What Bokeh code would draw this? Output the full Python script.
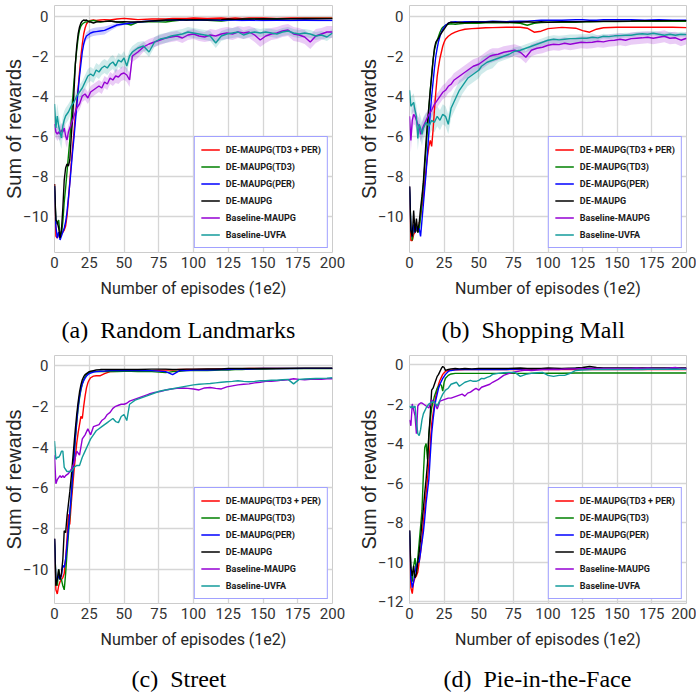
import numpy as np
from bokeh.plotting import figure
from bokeh.layouts import row, column
from bokeh.models import (Range1d, FixedTicker, Legend, LegendItem, Title, LinearAxis,
                          CustomJSTickFormatter)
from bokeh.embed import file_html
from bokeh.resources import INLINE

# ---------------- data ----------------
LABELS = ["DE-MAUPG(TD3 + PER)", "DE-MAUPG(TD3)", "DE-MAUPG(PER)", "DE-MAUPG",
          "Baseline-MAUPG", "Baseline-UVFA"]
CAPTIONS = ["(a)\u00a0 Random Landmarks", "(b)\u00a0 Shopping Mall",
            "(c)\u00a0 Street", "(d)\u00a0 Pie-in-the-Face"]
XLABEL = "Number of episodes (1e2)"
YLABEL = "Sum of rewards"
XTICKS = [0, 25, 50, 75, 100, 125, 150, 175, 200]
YTICKS = [-12, -10, -8, -6, -4, -2, 0]

# x positions for the four DE-MAUPG curves
XF = [0, 1, 2, 3, 4, 5, 6, 7, 8, 9, 10, 11, 12, 13, 14, 15, 16, 17, 18, 19, 20, 21, 22, 23, 24, 25, 26,
      28, 30, 33, 36, 40, 45, 50, 55, 60,
      70, 80, 85, 90, 95, 100,
      110, 120, 125, 130, 135, 140,
      150, 160, 170, 180, 190, 200]
# x positions for the two baseline curves
XB = [0, 1, 2, 3, 4, 5, 6, 7, 8, 9, 10,
      12, 14, 16, 18, 20, 22, 24, 26, 28, 30, 32, 34, 36,
      38, 40, 42, 44, 46, 48, 50, 52, 54, 56, 58, 60,
      64, 68, 72, 76, 80, 84, 88, 92, 96, 100, 104, 108, 112, 116, 120, 124, 128, 132,
      136, 140, 144, 148, 152, 156, 160, 164, 168, 172, 176, 180, 184, 188, 192, 196, 200]

# ---- (a) Random Landmarks ----
a_red = [-8.4, -11.0, -11.1, -10.9, -10.8, -10.9, -10.8, -10.7, -10.5, -10.0, -9.2, -8.3, -7.4, -6.6, -5.8, -5.0, -4.3, -3.6, -2.8, -2.0, -1.4, -0.9, -0.6, -0.4, -0.3, -0.25, -0.22,
         -0.2, -0.22, -0.2, -0.18, -0.2, -0.15, -0.12, -0.15, -0.18,
         -0.15, -0.15, -0.12, -0.12, -0.12, -0.1,
         -0.12, -0.1, -0.12, -0.1, -0.12, -0.1,
         -0.1, -0.12, -0.1, -0.1, -0.1, -0.1]
a_green = [-8.5, -10.3, -10.4, -10.2, -10.9, -10.9, -10.3, -9.3, -8.6, -7.8, -7.0, -6.2, -5.2, -4.2, -3.3, -2.4, -1.7, -1.1, -0.7, -0.5, -0.4, -0.35, -0.3, -0.3, -0.28, -0.25, -0.25,
           -0.22, -0.25, -0.3, -0.28, -0.25, -0.3, -0.35, -0.45, -0.3,
           -0.28, -0.3, -0.25, -0.22, -0.2, -0.2,
           -0.22, -0.25, -0.22, -0.18, -0.17, -0.15,
           -0.15, -0.14, -0.13, -0.12, -0.12, -0.12]
a_blue = [-8.5, -10.5, -11.1, -10.8, -11.2, -11.0, -10.8, -10.6, -10.3, -9.8, -9.1, -8.4, -7.6, -6.8, -6.1, -5.3, -4.5, -3.7, -3.0, -2.4, -1.8, -1.4, -1.15, -1.0, -0.95, -0.9, -0.85,
          -0.8, -0.78, -0.75, -0.72, -0.6, -0.45, -0.4, -0.35, -0.3,
          -0.25, -0.22, -0.2, -0.2, -0.2, -0.2,
          -0.2, -0.22, -0.2, -0.2, -0.22, -0.2,
          -0.22, -0.2, -0.22, -0.2, -0.22, -0.22]
a_black = [-8.4, -10.2, -10.3, -10.6, -11.1, -10.7, -9.6, -8.2, -7.6, -7.4, -7.5, -7.2, -6.1, -5.1, -3.8, -2.4, -1.5, -0.9, -0.55, -0.35, -0.25, -0.2, -0.22, -0.2, -0.25, -0.3, -0.3,
           -0.35, -0.3, -0.28, -0.27, -0.25, -0.3, -0.28, -0.3, -0.3,
           -0.25, -0.2, -0.2, -0.18, -0.2, -0.18,
           -0.2, -0.18, -0.15, -0.17, -0.15, -0.15,
           -0.14, -0.15, -0.14, -0.13, -0.14, -0.13]
a_purple = [-5.4, -5.8, -5.9, -5.8, -5.9, -5.7, -5.8, -5.6, -6.0, -6.2, -5.8,
            -5.4, -5.0, -4.6, -4.4, -4.0, -3.9, -4.1, -3.8, -3.7, -3.6, -3.5, -3.6, -3.3,
            -3.4, -3.1, -3.2, -3.0, -3.05, -2.9, -2.85, -2.95, -3.2, -2.0, -1.9, -1.8,
            -1.55, -1.4, -1.3, -1.2, -1.1, -1.05, -1.0, -1.1, -0.95, -0.9, -1.0, -1.05, -0.95, -1.0, -0.9, -0.85, -0.9, -0.8,
            -0.85, -0.8, -0.95, -1.2, -1.0, -0.9, -0.85, -0.75, -0.7, -0.9, -0.95, -1.05, -1.3, -1.0, -0.9, -0.8, -0.8]
a_teal = [-4.4, -5.6, -5.0, -5.5, -5.8, -6.1, -5.5, -5.2, -5.0, -4.9, -4.8,
          -4.5, -4.3, -4.0, -3.8, -3.6, -3.3, -3.0, -2.9, -3.0, -2.7, -2.8, -2.6, -2.5,
          -2.6, -2.4, -2.3, -2.5, -2.2, -2.3, -2.1, -2.5, -2.0, -1.8, -1.7, -1.6,
          -1.5, -1.8, -1.3, -1.15, -1.1, -1.0, -0.95, -0.9, -0.8, -0.85, -0.9, -0.95, -1.0, -1.35, -1.0, -0.9, -0.85, -0.8,
          -0.95, -0.85, -0.8, -0.85, -0.8, -0.85, -0.9, -0.8, -0.75, -0.85, -0.9, -0.85, -0.9, -1.0, -0.95, -1.05, -0.85]
a_purple_sd = [0.3, 0.3, 0.35, 0.35, 0.35, 0.35, 0.35, 0.35, 0.4, 0.4, 0.35,
               0.35, 0.35, 0.3, 0.3, 0.3, 0.3, 0.3, 0.3, 0.3, 0.3, 0.3, 0.3, 0.3,
               0.3, 0.3, 0.3, 0.35, 0.35, 0.35, 0.35, 0.35, 0.35, 0.3, 0.3, 0.3,
               0.25, 0.25, 0.25, 0.25, 0.25, 0.25, 0.25, 0.25, 0.25, 0.25, 0.25, 0.25, 0.3, 0.3, 0.3, 0.3, 0.3, 0.3,
               0.3, 0.3, 0.35, 0.35, 0.35, 0.3, 0.3, 0.3, 0.3, 0.35, 0.35, 0.35, 0.35, 0.35, 0.3, 0.3, 0.3]
a_teal_sd = [0.6, 0.6, 0.6, 0.6, 0.6, 0.55, 0.5, 0.45, 0.4, 0.4, 0.4,
             0.35, 0.35, 0.35, 0.35, 0.35, 0.35, 0.35, 0.35, 0.35, 0.35, 0.35, 0.35, 0.35,
             0.35, 0.35, 0.35, 0.35, 0.35, 0.35, 0.35, 0.35, 0.3, 0.3, 0.3, 0.3,
             0.25, 0.25, 0.25, 0.25, 0.25, 0.25, 0.25, 0.25, 0.25, 0.25, 0.25, 0.25, 0.25, 0.25, 0.25, 0.25, 0.25, 0.25,
             0.2, 0.2, 0.2, 0.2, 0.2, 0.2, 0.2, 0.2, 0.2, 0.2, 0.2, 0.2, 0.2, 0.2, 0.2, 0.2, 0.2]
a_blue_sd = [0.0, 0.0, 0.0, 0.0, 0.0, 0.0, 0.0, 0.0, 0.0, 0.0, 0.0, 0.0, 0.0, 0.0, 0.0, 0.0, 0.0, 0.0, 0.0, 0.0, 0.1, 0.15, 0.2, 0.2, 0.2, 0.2, 0.2,
             0.2, 0.2, 0.2, 0.2, 0.15, 0.1, 0.05, 0.05, 0.05,
             0.05, 0.05, 0.05, 0.05, 0.05, 0.05,
             0.05, 0.05, 0.05, 0.05, 0.05, 0.05,
             0.05, 0.05, 0.05, 0.05, 0.05, 0.05]

# ---- (b) Shopping Mall ----
b_red = [-8.5, -11.2, -11.2, -10.9, -10.8, -10.7, -10.6, -10.4, -10.0, -9.5, -9.0, -8.3, -7.6, -7.0, -6.5, -6.2, -6.5, -5.7, -4.7, -3.8, -3.0, -2.5, -2.1, -1.8, -1.5, -1.3, -1.15,
         -1.0, -0.9, -0.8, -0.72, -0.65, -0.62, -0.6, -0.58, -0.57,
         -0.55, -0.55, -0.6, -0.8, -0.75, -0.62,
         -0.56, -0.6, -0.72, -0.8, -0.65, -0.58,
         -0.55, -0.55, -0.55, -0.55, -0.55, -0.57]
b_green = [-8.5, -10.5, -11.2, -10.5, -10.4, -10.6, -10.8, -10.7, -10.0, -9.2, -8.4, -7.5, -6.6, -5.6, -4.6, -3.7, -2.9, -2.2, -1.7, -1.4, -1.2, -1.0, -0.8, -0.65, -0.55, -0.5, -0.45,
           -0.4, -0.38, -0.4, -0.38, -0.35, -0.35, -0.35, -0.33, -0.33,
           -0.32, -0.35, -0.45, -0.35, -0.32, -0.3,
           -0.3, -0.3, -0.28, -0.28, -0.27, -0.27,
           -0.27, -0.25, -0.25, -0.25, -0.25, -0.25]
b_blue = [-8.5, -10.6, -11.0, -10.4, -10.8, -10.5, -10.7, -10.6, -11.0, -10.2, -9.4, -8.6, -7.8, -6.8, -5.8, -4.8, -4.0, -3.3, -2.6, -2.0, -1.6, -1.25, -1.0, -0.8, -0.65, -0.55, -0.45,
          -0.35, -0.3, -0.28, -0.3, -0.28, -0.28, -0.27, -0.28, -0.25,
          -0.27, -0.25, -0.25, -0.22, -0.2, -0.2,
          -0.2, -0.18, -0.18, -0.2, -0.2, -0.18,
          -0.18, -0.17, -0.2, -0.18, -0.2, -0.2]
b_black = [-8.5, -10.7, -11.0, -9.7, -10.8, -10.1, -10.8, -10.3, -9.6, -9.0, -8.3, -7.2, -6.2, -5.3, -4.5, -3.7, -3.0, -2.2, -1.6, -1.3, -1.2, -1.1, -0.95, -0.85, -0.75, -0.65, -0.55,
           -0.35, -0.3, -0.32, -0.3, -0.32, -0.3, -0.3, -0.3, -0.28,
           -0.3, -0.3, -0.28, -0.3, -0.28, -0.3,
           -0.28, -0.27, -0.28, -0.26, -0.27, -0.25,
           -0.25, -0.24, -0.22, -0.23, -0.22, -0.22]
b_purple = [-5.0, -6.2, -5.2, -4.9, -5.0, -5.2, -5.4, -5.5, -5.9, -5.7, -5.5,
            -5.2, -4.9, -4.7, -4.4, -4.2, -4.0, -3.8, -3.7, -3.5, -3.4, -3.2, -3.1, -3.0,
            -2.9, -2.8, -2.7, -2.6, -2.5, -2.45, -2.4, -2.3, -2.2, -2.1, -2.0, -1.95,
            -1.9, -1.8, -1.75, -1.7, -1.8, -2.05, -1.7, -1.6, -1.55, -1.45, -1.4, -1.42, -1.35, -1.4, -1.35, -1.3, -1.32, -1.3,
            -1.25, -1.28, -1.22, -1.2, -1.15, -1.2, -1.12, -1.1, -1.08, -1.05, -1.1, -1.05, -1.0, -1.1, -1.08, -1.2, -1.1]
b_teal = [-3.7, -4.5, -4.4, -4.3, -4.7, -5.0, -6.1, -5.4, -5.6, -5.9, -5.6,
          -5.3, -5.5, -5.2, -5.3, -5.0, -5.2, -4.9, -5.0, -5.4, -4.6, -4.3, -4.0, -3.7,
          -3.5, -3.3, -3.1, -3.0, -2.9, -2.8, -2.7, -2.5, -2.4, -2.3, -2.25, -2.2,
          -2.1, -2.0, -1.9, -1.75, -1.7, -1.6, -1.5, -1.4, -1.3, -1.2, -1.15, -1.18, -1.15, -1.12, -1.12, -1.1, -1.1, -1.05,
          -1.08, -1.0, -1.02, -0.98, -0.97, -0.95, -0.95, -0.9, -0.88, -0.9, -0.85, -0.9, -0.95, -0.9, -0.95, -0.9, -0.92]
b_purple_sd = [0.5, 0.6, 0.5, 0.5, 0.45, 0.45, 0.4, 0.4, 0.4, 0.4, 0.4,
               0.35, 0.35, 0.35, 0.35, 0.35, 0.35, 0.35, 0.35, 0.35, 0.35, 0.35, 0.35, 0.35,
               0.35, 0.35, 0.35, 0.35, 0.35, 0.35, 0.35, 0.35, 0.35, 0.35, 0.35, 0.35,
               0.3, 0.3, 0.3, 0.3, 0.3, 0.3, 0.3, 0.3, 0.3, 0.3, 0.3, 0.3, 0.3, 0.3, 0.3, 0.3, 0.3, 0.3,
               0.3, 0.3, 0.3, 0.3, 0.3, 0.3, 0.3, 0.3, 0.3, 0.3, 0.3, 0.3, 0.3, 0.3, 0.3, 0.3, 0.3]
b_teal_sd = [0.4, 0.45, 0.45, 0.45, 0.5, 0.55, 0.6, 0.6, 0.6, 0.6, 0.55,
             0.5, 0.5, 0.5, 0.5, 0.5, 0.5, 0.5, 0.5, 0.5, 0.5, 0.5, 0.5, 0.5,
             0.4, 0.4, 0.4, 0.4, 0.4, 0.4, 0.4, 0.4, 0.4, 0.4, 0.4, 0.4,
             0.2, 0.2, 0.2, 0.2, 0.2, 0.2, 0.2, 0.2, 0.2, 0.2, 0.2, 0.2, 0.2, 0.2, 0.2, 0.2, 0.2, 0.2,
             0.12, 0.12, 0.12, 0.12, 0.12, 0.12, 0.12, 0.12, 0.12, 0.12, 0.12, 0.12, 0.12, 0.12, 0.12, 0.12, 0.12]

# ---- (c) Street ----
c_red = [-8.5, -11.0, -11.2, -10.8, -10.6, -10.5, -10.4, -10.2, -9.5, -8.5, -7.3, -7.8, -6.8, -6.0, -5.2, -4.5, -3.8, -3.3, -2.9, -2.5, -2.6, -2.0, -1.5, -1.1, -0.85, -0.7, -0.6,
         -0.52, -0.5, -0.5, -0.4, -0.3, -0.28, -0.27, -0.25, -0.25,
         -0.25, -0.22, -0.22, -0.2, -0.2, -0.2,
         -0.18, -0.17, -0.17, -0.16, -0.16, -0.15,
         -0.15, -0.15, -0.14, -0.14, -0.14, -0.14]
c_green = [-8.5, -10.5, -10.8, -10.0, -10.4, -10.5, -10.8, -11.0, -10.2, -9.2, -8.3, -7.4, -6.5, -5.5, -4.5, -3.6, -2.8, -2.1, -1.6, -1.2, -0.9, -0.7, -0.55, -0.45, -0.4, -0.35, -0.32,
           -0.3, -0.3, -0.28, -0.3, -0.28, -0.3, -0.28, -0.28, -0.3,
           -0.3, -0.35, -0.3, -0.28, -0.25, -0.25,
           -0.25, -0.22, -0.22, -0.2, -0.2, -0.18,
           -0.17, -0.16, -0.15, -0.15, -0.15, -0.15]
c_blue = [-8.5, -10.6, -10.5, -10.3, -10.5, -10.3, -9.8, -9.9, -9.5, -8.8, -8.0, -7.2, -6.4, -5.4, -4.4, -3.5, -2.7, -2.0, -1.5, -1.15, -0.9, -0.75, -0.62, -0.52, -0.45, -0.4, -0.37,
          -0.32, -0.3, -0.28, -0.27, -0.25, -0.25, -0.25, -0.25, -0.25,
          -0.25, -0.3, -0.45, -0.25, -0.25, -0.22,
          -0.22, -0.2, -0.2, -0.18, -0.17, -0.17,
          -0.15, -0.15, -0.15, -0.14, -0.14, -0.14]
c_black = [-8.5, -10.8, -10.5, -10.0, -10.5, -10.2, -9.5, -8.1, -8.2, -7.4, -6.8, -6.2, -5.5, -4.7, -3.9, -3.1, -2.4, -1.8, -1.3, -0.95, -0.7, -0.55, -0.45, -0.4, -0.35, -0.3, -0.28,
           -0.25, -0.22, -0.2, -0.2, -0.2, -0.2, -0.2, -0.2, -0.2,
           -0.18, -0.18, -0.2, -0.2, -0.18, -0.18,
           -0.17, -0.17, -0.15, -0.15, -0.15, -0.15,
           -0.15, -0.14, -0.14, -0.13, -0.13, -0.13]
c_purple = [-4.4, -5.8, -5.6, -5.5, -5.4, -5.5, -5.4, -5.5, -5.4, -5.35, -5.3,
            -5.1, -4.8, -4.2, -4.4, -3.6, -3.4, -3.1, -3.4, -3.0, -2.95, -2.9, -2.7, -2.6,
            -2.4, -2.3, -2.1, -2.0, -1.95, -1.9, -1.9, -1.85, -1.75, -1.7, -1.65, -1.6,
            -1.5, -1.4, -1.32, -1.28, -1.2, -1.15, -1.12, -1.1, -1.12, -1.15, -1.2, -1.1, -1.08, -1.12, -1.15, -1.05, -1.0, -0.95,
            -0.92, -0.9, -0.85, -0.82, -0.78, -0.78, -0.75, -0.72, -0.7, -0.65, -0.68, -0.7, -0.68, -0.66, -0.68, -0.65, -0.65]
c_teal = [-3.7, -4.6, -4.5, -4.5, -4.4, -4.2, -4.2, -5.0, -5.1, -5.2, -5.2,
          -5.2, -5.0, -4.9, -4.9, -4.5, -4.2, -3.9, -3.6, -3.4, -3.2, -3.1, -3.0, -2.9,
          -2.8, -2.7, -2.6, -2.75, -2.8, -2.5, -2.4, -2.7, -1.9, -1.8, -1.7, -1.65,
          -1.55, -1.45, -1.35, -1.25, -1.2, -1.15, -1.1, -1.05, -1.0, -0.95, -0.92, -0.9, -0.88, -0.85, -0.82, -0.8, -0.78, -0.75,
          -0.78, -0.8, -0.78, -0.75, -0.75, -0.72, -0.72, -0.7, -0.68, -0.9, -0.68, -0.66, -0.65, -0.64, -0.63, -0.62, -0.6]

# ---- (d) Pie-in-the-Face ----
d_red = [-8.4, -11.3, -11.6, -11.0, -10.8, -10.7, -10.5, -10.0, -9.5, -8.8, -8.0, -7.3, -6.5, -5.8, -5.0, -4.0, -3.0, -2.5, -2.0, -1.6, -1.3, -1.0, -0.8, -0.65, -0.5, -0.42, -0.35,
         -0.3, -0.28, -0.27, -0.27, -0.26, -0.26, -0.25, -0.25, -0.25,
         -0.25, -0.25, -0.25, -0.25, -0.25, -0.25,
         -0.25, -0.25, -0.25, -0.25, -0.25, -0.25,
         -0.25, -0.25, -0.25, -0.25, -0.25, -0.25]
d_green = [-8.4, -10.5, -11.0, -10.2, -9.8, -10.5, -9.8, -9.0, -8.2, -7.4, -5.6, -4.2, -4.0, -4.8, -3.5, -2.8, -2.2, -1.9, -1.6, -1.4, -1.2, -1.1, -1.0, -1.05, -1.35, -0.9, -0.7,
           -0.55, -0.48, -0.45, -0.45, -0.45, -0.45, -0.45, -0.45, -0.45,
           -0.45, -0.45, -0.45, -0.44, -0.45, -0.44,
           -0.44, -0.43, -0.43, -0.43, -0.43, -0.43,
           -0.43, -0.43, -0.43, -0.43, -0.43, -0.43]
d_blue = [-8.4, -10.8, -11.3, -11.0, -10.5, -10.2, -10.0, -10.0, -9.5, -9.0, -8.5, -7.8, -7.0, -6.4, -5.8, -4.6, -3.5, -2.8, -2.2, -1.8, -1.5, -1.2, -1.0, -0.85, -0.7, -0.6, -0.5,
          -0.35, -0.3, -0.27, -0.25, -0.25, -0.25, -0.25, -0.25, -0.25,
          -0.25, -0.23, -0.22, -0.22, -0.22, -0.22,
          -0.22, -0.2, -0.2, -0.2, -0.2, -0.2,
          -0.2, -0.2, -0.2, -0.2, -0.2, -0.2]
d_black = [-8.4, -10.3, -10.7, -10.2, -10.8, -10.6, -10.0, -9.5, -8.8, -8.0, -7.3, -6.5, -5.8, -5.0, -3.6, -2.5, -1.3, -1.2, -1.0, -0.8, -0.6, -0.5, -0.35, -0.2, -0.1, -0.15, -0.3,
           -0.25, -0.22, -0.2, -0.22, -0.2, -0.22, -0.2, -0.2, -0.2,
           -0.2, -0.18, -0.2, -0.2, -0.2, -0.18,
           -0.2, -0.18, -0.15, -0.1, -0.15, -0.18,
           -0.18, -0.18, -0.17, -0.17, -0.17, -0.17]
d_purple = [-2.8, -3.1, -2.0, -2.3, -2.6, -3.5, -2.1, -2.0, -1.95, -1.95, -2.0,
            -2.1, -2.2, -1.8, -1.9, -2.25, -1.85, -1.8, -1.75, -1.7, -1.7, -1.65, -1.6, -1.55,
            -1.5, -1.6, -1.45, -1.4, -1.3, -1.2, -1.3, -1.15, -1.1, -1.05, -1.0, -0.9,
            -0.75, -0.55, -0.45, -0.38, -0.32, -0.28, -0.3, -0.28, -0.25, -0.25, -0.24, -0.25, -0.22, -0.22, -0.22, -0.2, -0.22, -0.2,
            -0.2, -0.2, -0.2, -0.2, -0.2, -0.2, -0.2, -0.18, -0.2, -0.18, -0.2, -0.2, -0.2, -0.18, -0.15, -0.2, -0.2]
d_teal = [-2.1, -2.2, -2.1, -2.2, -2.1, -2.9, -3.5, -3.6, -3.3, -2.8, -2.5,
          -2.2, -2.0, -1.9, -1.9, -2.1, -1.8, -1.5, -1.3, -1.2, -1.0, -0.95, -0.9, -1.1,
          -1.0, -0.9, -0.85, -0.8, -0.85, -0.85, -0.8, -0.7, -0.72, -0.65, -0.6, -0.5,
          -0.45, -0.42, -0.4, -0.4, -0.6, -0.5, -0.45, -0.42, -0.4, -0.55, -0.6, -0.55, -0.55, -0.45, -0.3, -0.28, -0.27, -0.26,
          -0.25, -0.25, -0.25, -0.25, -0.25, -0.25, -0.25, -0.25, -0.25, -0.24, -0.24, -0.24, -0.24, -0.24, -0.24, -0.24, -0.24]

# ---------------- styling ----------------
COLORS = ["#ff0000", "#008000", "#0000ff", "#000000", "#9400d3", "#139b9b"]
HFONT = "Roboto"
YFONT = "Liberation Sans"
SERIF = "Liberation Serif"

MINUS_FMT = "return tick < 0 ? '\u2212' + Math.abs(tick) : String(tick);"
BLANK_FMT = "return '';"


def make_panel(fast, base, base_sd, fast_sd, caption, yr, width, height,
               bl, br, bt, bb, cap_off, gap):
    p = figure(width=width, height=height, title=None,
               x_range=Range1d(0, 200), y_range=Range1d(*yr),
               output_backend="svg", toolbar_location=None,
               min_border_left=bl, min_border_right=br,
               min_border_top=bt, min_border_bottom=bb)
    p.background_fill_color = "white"
    p.border_fill_color = "white"
    p.outline_line_color = "#cccccc"
    p.outline_line_width = 1

    for g in (p.xgrid[0], p.ygrid[0]):
        g.grid_line_color = "#d6d6d6"
        g.grid_line_width = 1.3
    p.xgrid[0].ticker = FixedTicker(ticks=XTICKS)
    p.ygrid[0].ticker = FixedTicker(ticks=YTICKS)

    xa = p.xaxis[0]
    ya = p.yaxis[0]
    xa.ticker = FixedTicker(ticks=XTICKS)
    ya.ticker = FixedTicker(ticks=YTICKS)
    ya.formatter = CustomJSTickFormatter(code=MINUS_FMT)
    xa.axis_label = XLABEL
    ya.axis_label = YLABEL
    for ax in (xa, ya):
        ax.axis_line_color = None
        ax.major_tick_line_color = None
        ax.minor_tick_line_color = None
        ax.major_tick_out = 0
        ax.major_tick_in = 0
        ax.minor_tick_out = 0
        ax.minor_tick_in = 0
        ax.major_label_text_font = HFONT
        ax.major_label_text_font_size = "15px"
        ax.major_label_text_color = "#333333"
        ax.axis_label_text_font_style = "normal"
        ax.axis_label_text_color = "#262626"
    xa.axis_label_text_font = HFONT
    xa.axis_label_text_font_size = "16px"
    xa.major_label_standoff = 4
    xa.axis_label_standoff = 8
    ya.axis_label_text_font = YFONT
    ya.axis_label_text_font_size = "20px"
    ya.major_label_standoff = 6
    ya.axis_label_standoff = -5

    # invisible spacer axis between the x-axis title and the caption
    spacer = LinearAxis(ticker=FixedTicker(ticks=[100]),
                        formatter=CustomJSTickFormatter(code=BLANK_FMT),
                        major_tick_out=gap, major_tick_in=0,
                        major_tick_line_color=None, minor_tick_line_color=None,
                        minor_tick_out=0, minor_tick_in=0,
                        axis_line_color=None, major_label_standoff=0,
                        major_label_text_font_size="1px")
    p.add_layout(spacer, "below")

    cap = Title(text=caption, align="left", offset=cap_off, standoff=0,
                text_font=SERIF, text_font_size="24px", text_font_style="normal",
                text_color="black")
    p.add_layout(cap, "below")

    # shaded bands
    for ys, sd, col in zip(base, base_sd, COLORS[4:]):
        if sd is not None:
            y = np.array(ys)
            s = np.array(sd)
            p.varea(x=XB, y1=y - s, y2=y + s, fill_color=col, fill_alpha=0.2)
    if fast_sd is not None:
        y = np.array(fast[2])
        s = np.array(fast_sd)
        p.varea(x=XF, y1=y - s, y2=y + s, fill_color=COLORS[2], fill_alpha=0.2)

    rends = []
    for ys, col in zip(fast, COLORS[:4]):
        rends.append(p.line(XF, ys, line_color=col, line_width=1.4))
    for ys, col in zip(base, COLORS[4:]):
        rends.append(p.line(XB, ys, line_color=col, line_width=1.4))

    legend = Legend(items=[LegendItem(label=l, renderers=[r]) for l, r in zip(LABELS, rends)],
                    location="bottom_right", margin=4, padding=6, spacing=4,
                    glyph_height=13, glyph_width=19, label_height=13, label_standoff=6,
                    label_text_font=HFONT, label_text_font_size="9px",
                    label_text_font_style="bold", label_text_color="#1a1a1a",
                    border_line_color="#4444ff", border_line_width=1.5,
                    background_fill_color="white", background_fill_alpha=1.0)
    p.add_layout(legend)
    return p


pa = make_panel([a_red, a_green, a_blue, a_black], [a_purple, a_teal],
                [a_purple_sd, a_teal_sd], a_blue_sd, CAPTIONS[0], (-11.825, 0.525),
                355, 347, 53, 23, 5, 95, 7, 14)
pb = make_panel([b_red, b_green, b_blue, b_black], [b_purple, b_teal],
                [b_purple_sd, b_teal_sd], None, CAPTIONS[1], (-11.80, 0.534),
                341, 347, 53, 10, 5, 95, 32, 14)
pc = make_panel([c_red, c_green, c_blue, c_black], [c_purple, c_teal],
                [None, None], None, CAPTIONS[2], (-11.67, 0.49),
                355, 347, 53, 23, 8, 91, 77, 12)
pd = make_panel([d_red, d_green, d_blue, d_black], [d_purple, d_teal],
                [None, None], None, CAPTIONS[3], (-12.10, 0.456),
                341, 347, 53, 10, 8, 91, 34, 12)

layout = column(row(pa, pb), row(pc, pd))
open("out.html", "w").write(file_html(layout, INLINE))
